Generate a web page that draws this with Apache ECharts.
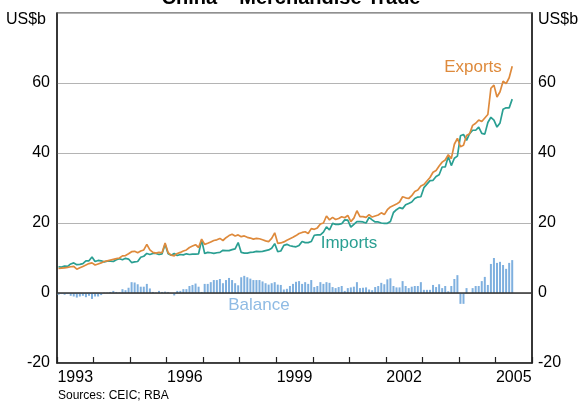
<!DOCTYPE html>
<html><head><meta charset="utf-8">
<script src="https://cdn.jsdelivr.net/npm/echarts@6/dist/echarts.min.js"></script>
<style>html,body{margin:0;padding:0;background:#fff}#c{width:582px;height:406px}</style>
</head><body><div id="c"></div>
<script>
var yearLabels = ['1993','1994','1995','1996','1997','1998','1999','2000','2001','2002','2003','2004','2005'];
var exportsData = [
7.0,7.1,7.2,7.3,7.5,7.6,6.8,7.2,7.6,8.0,8.4,8.6,
8.0,8.3,8.6,9.0,9.2,9.4,9.6,9.8,10.0,10.6,10.7,11.2,
11.8,11.9,11.5,12.0,12.3,13.9,12.3,11.6,11.4,11.6,11.5,14.3,
11.5,10.8,10.6,11.3,11.6,12.0,12.3,13.0,13.4,13.8,13.0,15.4,
13.9,14.2,14.6,15.0,15.2,15.6,15.0,15.8,16.4,16.8,16.3,16.6,
16.1,16.3,15.9,15.7,15.4,15.6,15.5,15.2,14.9,14.7,15.6,17.2,
14.2,14.3,14.6,15.1,15.5,15.9,16.4,17.0,17.3,17.5,17.0,18.4,
18.2,18.6,19.7,20.0,22.0,20.9,21.6,21.0,21.3,21.8,21.5,22.2,
20.4,21.4,23.5,21.8,21.8,21.6,22.4,21.7,22.0,22.3,22.9,22.4,
23.8,24.6,25.0,25.4,26.0,27.5,27.2,27.0,27.8,29.0,29.4,30.6,
31.0,32.0,33.0,34.5,35.0,36.3,37.4,38.0,39.5,38.4,42.5,44.2,
41.8,42.2,45.0,45.5,47.9,48.5,49.4,49.0,50.0,51.0,58.5,59.4,
56.0,57.5,60.5,59.8,61.5,64.8
];
var importsData = [
7.5,7.4,7.7,7.6,8.3,8.6,8.1,8.2,8.4,9.2,9.2,10.3,
9.0,9.3,9.2,8.9,9.1,9.1,9.0,9.5,9.8,9.5,9.9,9.7,
8.7,8.9,9.0,10.2,10.5,11.3,11.0,11.3,11.3,11.0,11.2,13.9,
11.2,10.8,11.3,10.7,11.0,10.9,11.2,11.0,11.1,11.1,11.2,15.1,
11.3,11.6,11.5,11.3,11.5,11.6,12.2,12.1,12.1,12.4,12.6,14.4,
11.6,11.4,11.4,11.6,11.7,11.9,11.8,11.9,12.1,12.3,12.8,14.1,
11.8,12.0,13.6,13.9,13.5,13.3,13.2,13.6,14.7,14.4,14.4,14.7,
16.5,16.6,16.6,17.4,18.9,18.0,19.9,19.6,19.6,19.8,20.9,20.8,
18.8,19.6,20.4,20.4,20.3,20.0,21.6,20.9,20.3,20.3,20.0,19.9,
19.9,20.4,23.0,23.8,24.4,24.1,25.2,25.6,26.0,27.0,27.4,27.5,
30.1,31.1,32.1,32.2,33.3,33.8,36.0,36.0,39.0,36.4,38.5,39.1,
44.9,45.3,43.6,45.5,46.5,46.5,47.4,45.6,45.4,48.7,50.2,49.4,
47.4,48.6,52.5,52.9,52.9,55.4
];
var balanceData = [
-0.5,-0.3,-0.5,-0.3,-0.8,-1.0,-1.3,-1.0,-0.8,-1.2,-0.8,-1.7,
-1.0,-1.0,-0.6,0.1,0.1,0.3,0.6,0.3,0.2,1.1,0.8,1.5,
3.1,3.0,2.5,1.8,1.8,2.6,1.3,0.3,0.1,0.6,0.3,0.4,
0.3,0.0,-0.7,0.6,0.6,1.1,1.1,2.0,2.3,2.7,1.8,0.3,
2.6,2.6,3.1,3.7,3.7,4.0,2.8,3.7,4.3,3.7,2.8,2.2,
4.5,4.9,4.5,4.1,3.7,3.7,3.7,3.3,2.8,2.4,2.8,3.1,
2.4,2.3,1.0,1.2,2.0,2.6,3.2,3.4,2.6,3.1,2.6,3.7,
1.7,2.0,3.1,2.6,3.1,2.9,1.7,1.4,1.7,2.0,0.6,1.4,
1.6,1.8,3.1,1.4,1.5,1.6,1.0,0.8,1.7,2.0,2.9,2.5,
3.9,4.2,2.0,1.6,1.6,3.4,2.0,1.4,1.8,2.0,2.0,3.1,
0.9,0.9,0.9,2.3,1.7,2.5,1.4,2.0,0.5,2.0,4.0,5.1,
-3.1,-3.1,1.4,0.0,1.4,2.0,2.0,3.4,4.6,2.3,8.3,10.0,
8.6,8.9,8.0,6.9,8.6,9.4
];

function pairs(arr){ return arr.map(function(v,i){ return [i+0.5, v]; }); }

var chart = echarts.init(document.getElementById('c'), null, {renderer:'canvas'});
var FONT = 'Liberation Sans, Arial, sans-serif';
var option = {
  animation:false,
  backgroundColor:'#fff',
  grid:{left:57,right:50,top:13,bottom:43,show:true,borderColor:'#222',borderWidth:1.2,backgroundColor:'transparent'},
  xAxis:[
    {type:'value',min:0,max:156,interval:12,
     axisLine:{show:true,onZero:false,lineStyle:{color:'#222',width:1.5}},
     axisTick:{show:true,inside:true,length:6,lineStyle:{color:'#222',width:1.2}},
     axisLabel:{show:false},splitLine:{show:false}},
    {type:'category',data:yearLabels,boundaryGap:true,position:'bottom',
     axisLine:{show:false},axisTick:{show:false},
     axisLabel:{show:true,interval:2,margin:7,color:'#000',fontSize:16,fontFamily:FONT,
       formatter:function(v,i){ return (i%3===0)?v:''; }},
     splitLine:{show:false}}
  ],
  yAxis:[
    {type:'value',min:-20,max:80,interval:20,position:'left',
     axisLine:{show:true,lineStyle:{color:'#222',width:1.5}},axisTick:{show:false},
     axisLabel:{margin:7,color:'#000',fontSize:16,fontFamily:FONT,formatter:function(v){return v===80?'':String(v);}},
     splitLine:{show:true,lineStyle:{color:'#b4b4b4',width:1}}},
    {type:'value',min:-20,max:80,interval:20,position:'right',
     axisLine:{show:true,lineStyle:{color:'#222',width:1.5}},axisTick:{show:false},
     axisLabel:{margin:6,color:'#000',fontSize:16,fontFamily:FONT,formatter:function(v){return v===80?'':String(v);}},
     splitLine:{show:false}}
  ],
  series:[
    {name:'Balance',type:'bar',xAxisIndex:0,yAxisIndex:0,data:pairs(balanceData),barWidth:2,
     itemStyle:{color:'#7fb0df'},z:2,
     markLine:{silent:true,symbol:'none',label:{show:false},lineStyle:{color:'#333',width:1.5,type:'solid'},data:[{yAxis:0}]}},
    {name:'Imports',type:'line',xAxisIndex:0,yAxisIndex:0,data:pairs(importsData),showSymbol:false,
     lineStyle:{color:'#2a9f92',width:1.7},z:3},
    {name:'Exports',type:'line',xAxisIndex:0,yAxisIndex:0,data:pairs(exportsData),showSymbol:false,
     lineStyle:{color:'#de8a3c',width:1.7},z:4}
  ],
  graphic:[
    {type:'text',left:'center',top:-12,style:{text:'China \u2013 Merchandise Trade',font:'bold 20px '+FONT,fill:'#000'}},
    {type:'text',x:46,y:20,style:{text:'US$b',font:'16px '+FONT,fill:'#000',textAlign:'right',textVerticalAlign:'middle'}},
    {type:'text',x:538,y:20,style:{text:'US$b',font:'16px '+FONT,fill:'#000',textAlign:'left',textVerticalAlign:'middle'}},
    {type:'text',x:473,y:67,style:{text:'Exports',font:'17px '+FONT,fill:'#de8a3c',textAlign:'center',textVerticalAlign:'middle'}},
    {type:'text',x:349,y:243,style:{text:'Imports',font:'17px '+FONT,fill:'#2a9f92',textAlign:'center',textVerticalAlign:'middle'}},
    {type:'text',x:259,y:305,style:{text:'Balance',font:'17px '+FONT,fill:'#8fbbe4',textAlign:'center',textVerticalAlign:'middle'}},
    {type:'text',x:58,y:396,style:{text:'Sources: CEIC; RBA',font:'12px '+FONT,fill:'#000',textAlign:'left',textVerticalAlign:'middle'}}
  ]
};
chart.setOption(option);
</script></body></html>
